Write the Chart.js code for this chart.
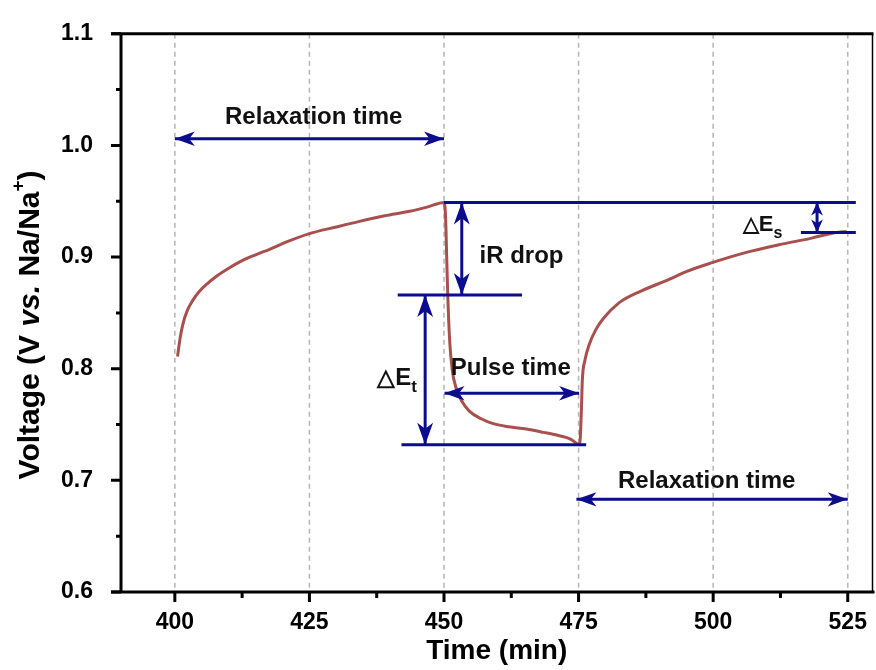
<!DOCTYPE html>
<html>
<head>
<meta charset="utf-8">
<script src="https://cdn.jsdelivr.net/npm/chart.js@4.4.1/dist/chart.umd.min.js"></script>
<style>
  html, body { margin: 0; padding: 0; background: #fff; }
  #wrap { width: 876px; height: 670px; }
</style>
</head>
<body>
<div id="wrap"><canvas id="chart" width="876" height="670"></canvas></div>
<script>
// values
const timeMin = [
    400.5, 401.0, 401.5, 402.3, 403.3, 404.5, 406.0, 407.8, 410.0, 412.6, 415.0,
    417.6, 421.0, 425.0, 430.0, 434.3, 439.0, 443.6, 447.0, 450.0,
    450.3, 450.5, 450.7, 451.0, 451.5, 452.3, 453.3, 454.7, 457.0, 459.0,
    462.0, 465.3, 468.5, 471.4, 473.5, 475.2,
    475.5, 475.7, 476.2, 477.0, 478.2, 479.6, 482.5, 486.8, 491.8, 495.0, 499.8,
    506.0, 512.2, 518.3, 522.8, 524.8
];
const voltage = [
    0.811, 0.828, 0.840, 0.852, 0.861, 0.869, 0.876, 0.883, 0.890, 0.897, 0.902,
    0.907, 0.914, 0.921, 0.927, 0.932, 0.937, 0.941, 0.945, 0.949,
    0.935, 0.900, 0.866, 0.830, 0.800, 0.782, 0.771, 0.762, 0.755, 0.751,
    0.748, 0.746, 0.743, 0.740, 0.737, 0.732,
    0.760, 0.790, 0.808, 0.822, 0.835, 0.845, 0.859, 0.870, 0.880, 0.887, 0.895,
    0.904, 0.911, 0.917, 0.922, 0.923
];

const xTicks = [400, 425, 450, 475, 500, 525];
const xMinor = [412.5, 437.5, 462.5, 487.5, 512.5];
const yTicks = [0.6, 0.7, 0.8, 0.9, 1.0, 1.1];
const yMinor = [0.65, 0.75, 0.85, 0.95, 1.05];

// level lines [t1, v1, t2, v2]
const levelLines = [
    [450.0, 0.949, 526.5, 0.949],
    [441.4, 0.866, 464.5, 0.866],
    [442.1, 0.732, 476.4, 0.732],
    [516.3, 0.922, 526.5, 0.922]
];
// double arrows [t1, v1, t2, v2, head length, head width ratio]
const arrows = [
    [400.0, 1.006, 450.0, 1.006, 20, 0.36],
    [453.3, 0.949, 453.3, 0.866, 22, 0.36],
    [446.5, 0.866, 446.5, 0.732, 22, 0.36],
    [450.1, 0.778, 475.1, 0.778, 20, 0.36],
    [519.3, 0.949, 519.3, 0.922, 13, 0.45],
    [474.6, 0.683, 525.0, 0.683, 20, 0.36]
];
// text labels: anchor time, voltage (baseline), alignment
const notes = [
    { t: 425.8, v: 1.0196, align: "center", parts: [["Relaxation time", 24, 0]] },
    { t: 498.8, v: 0.693, align: "center", parts: [["Relaxation time", 24, 0]] },
    { t: 462.4, v: 0.7947, align: "center", parts: [["Pulse time", 24, 0]] },
    { t: 456.6, v: 0.895, align: "left", parts: [["iR drop", 24, 0]] },
    { t: 437.6, v: 0.7858, align: "left", parts: [["\u25B3", 23, 0], ["E", 24, 0], ["t", 17, 7]] },
    { t: 505.5, v: 0.9236, align: "left", parts: [["\u25B3", 21, 0], ["E", 22, 0], ["s", 16, 7]] }
];

const FONT = "'Liberation Sans', Arial, sans-serif";
const NAVY = "#0c0c8e";
const CURVE = "#a94f4d";

function px(chart, t, v) {
    return [chart.scales.x.getPixelForValue(t), chart.scales.y.getPixelForValue(v)];
}

function drawHead(ctx, x, y, ang, len, ratio) {
    const w = len * ratio;
    ctx.save();
    ctx.translate(x, y);
    ctx.rotate(ang);
    ctx.beginPath();
    ctx.moveTo(0, 0);
    ctx.lineTo(-len, -w);
    ctx.lineTo(-len * 0.72, 0);
    ctx.lineTo(-len, w);
    ctx.closePath();
    ctx.fill();
    ctx.restore();
}

const gridPlugin = {
    id: "dashGrid",
    beforeDatasetsDraw(chart) {
        const { ctx, chartArea } = chart;
        ctx.save();
        ctx.strokeStyle = "#b9b9b9";
        ctx.lineWidth = 1.6;
        ctx.setLineDash([5, 4]);
        xTicks.forEach((t) => {
            const x = chart.scales.x.getPixelForValue(t);
            ctx.beginPath();
            ctx.moveTo(x, chartArea.top);
            ctx.lineTo(x, chartArea.bottom);
            ctx.stroke();
        });
        ctx.restore();
    }
};

const notePlugin = {
    id: "notes",
    afterDatasetsDraw(chart) {
        const ctx = chart.ctx;
        ctx.save();
        ctx.strokeStyle = NAVY;
        ctx.fillStyle = NAVY;
        ctx.lineWidth = 3;
        levelLines.forEach((l) => {
            const a = px(chart, l[0], l[1]);
            const b = px(chart, l[2], l[3]);
            ctx.beginPath();
            ctx.moveTo(a[0], a[1]);
            ctx.lineTo(b[0], b[1]);
            ctx.stroke();
        });
        arrows.forEach((r) => {
            const a = px(chart, r[0], r[1]);
            const b = px(chart, r[2], r[3]);
            const ang = Math.atan2(b[1] - a[1], b[0] - a[0]);
            ctx.beginPath();
            ctx.moveTo(a[0], a[1]);
            ctx.lineTo(b[0], b[1]);
            ctx.stroke();
            drawHead(ctx, b[0], b[1], ang, r[4], r[5]);
            drawHead(ctx, a[0], a[1], ang + Math.PI, r[4], r[5]);
        });

        ctx.fillStyle = "#111";
        ctx.textBaseline = "alphabetic";
        ctx.textAlign = "left";
        notes.forEach((n) => {
            const p = px(chart, n.t, n.v);
            let total = 0;
            n.parts.forEach((s) => {
                ctx.font = "bold " + s[1] + "px " + FONT;
                total += ctx.measureText(s[0]).width;
            });
            let x = n.align === "center" ? p[0] - total / 2 : p[0];
            n.parts.forEach((s) => {
                ctx.font = "bold " + s[1] + "px " + FONT;
                ctx.fillText(s[0], x, p[1] + s[2]);
                x += ctx.measureText(s[0]).width;
            });
        });
        ctx.restore();
    }
};

const framePlugin = {
    id: "frame",
    afterDraw(chart) {
        const { ctx, chartArea } = chart;
        const { left, right, top, bottom } = chartArea;
        ctx.save();
        ctx.strokeStyle = "#000";
        ctx.lineCap = "butt";
        ctx.lineWidth = 1.5;
        ctx.beginPath();
        ctx.moveTo(right, top);
        ctx.lineTo(right, bottom);
        ctx.stroke();
        ctx.lineWidth = 3;
        ctx.beginPath();
        ctx.moveTo(left - 10, top);
        ctx.lineTo(right + 1, top);
        ctx.moveTo(left, top);
        ctx.lineTo(left, bottom);
        ctx.moveTo(left - 10, bottom);
        ctx.lineTo(right + 2, bottom);
        ctx.stroke();

        ctx.lineWidth = 3;
        ctx.beginPath();
        yTicks.forEach((v) => {
            const y = chart.scales.y.getPixelForValue(v);
            ctx.moveTo(left - 10, y);
            ctx.lineTo(left, y);
        });
        yMinor.forEach((v) => {
            const y = chart.scales.y.getPixelForValue(v);
            ctx.moveTo(left - 5, y);
            ctx.lineTo(left, y);
        });
        xTicks.forEach((t) => {
            const x = chart.scales.x.getPixelForValue(t);
            ctx.moveTo(x, bottom);
            ctx.lineTo(x, bottom + 10);
        });
        xMinor.forEach((t) => {
            const x = chart.scales.x.getPixelForValue(t);
            ctx.moveTo(x, bottom);
            ctx.lineTo(x, bottom + 6);
        });
        ctx.stroke();

        // y axis title with italic "vs." and superscript "+"
        const parts = [
            ["Voltage (V ", "bold 30px " + FONT, 0],
            ["vs.", "italic bold 30px " + FONT, 0],
            [" Na/Na", "bold 30px " + FONT, 0],
            ["+", "bold 19px " + FONT, -12],
            [")", "bold 30px " + FONT, 0]
        ];
        let total = 0;
        parts.forEach((s) => {
            ctx.font = s[1];
            total += ctx.measureText(s[0]).width;
        });
        ctx.translate(31, (top + bottom) / 2 + 12);
        ctx.rotate(-Math.PI / 2);
        ctx.fillStyle = "#000";
        ctx.textBaseline = "middle";
        ctx.textAlign = "left";
        let x = -total / 2;
        parts.forEach((s) => {
            ctx.font = s[1];
            ctx.fillText(s[0], x, s[2]);
            x += ctx.measureText(s[0]).width;
        });
        ctx.restore();
    }
};

new Chart(document.getElementById("chart"), {
    type: "line",
    data: {
        datasets: [
            {
                data: timeMin.map((t, i) => ({ x: t, y: voltage[i] })),
                borderColor: CURVE,
                borderWidth: 3,
                pointRadius: 0,
                cubicInterpolationMode: "monotone",
                fill: false
            }
        ]
    },
    options: {
        responsive: false,
        animation: false,
        layout: { padding: { top: 20, right: 2, left: 0, bottom: 0 } },
        plugins: { legend: { display: false }, tooltip: { enabled: false } },
        scales: {
            x: {
                type: "linear",
                min: 390,
                max: 529.6,
                afterBuildTicks: (s) => { s.ticks = xTicks.map((v) => ({ value: v })); },
                afterFit: (s) => { s.height = 78; },
                grid: { display: false },
                border: { display: false },
                ticks: {
                    color: "#000",
                    padding: 9,
                    font: { family: FONT, size: 23, weight: "bold" },
                    callback: (v) => v
                },
                title: {
                    display: true,
                    text: "Time (min)",
                    color: "#000",
                    padding: { top: 0, bottom: 2 },
                    font: { family: FONT, size: 28, weight: "bold" }
                }
            },
            y: {
                min: 0.6,
                max: 1.1,
                afterBuildTicks: (s) => { s.ticks = yTicks.map((v) => ({ value: v })); },
                afterFit: (s) => { s.width = 121; },
                grid: { display: false },
                border: { display: false },
                ticks: {
                    color: "#000",
                    padding: 20,
                    font: { family: FONT, size: 23, weight: "bold" },
                    callback: (v) => v.toFixed(1)
                }
            }
        }
    },
    plugins: [gridPlugin, notePlugin, framePlugin]
});
</script>
</body>
</html>
